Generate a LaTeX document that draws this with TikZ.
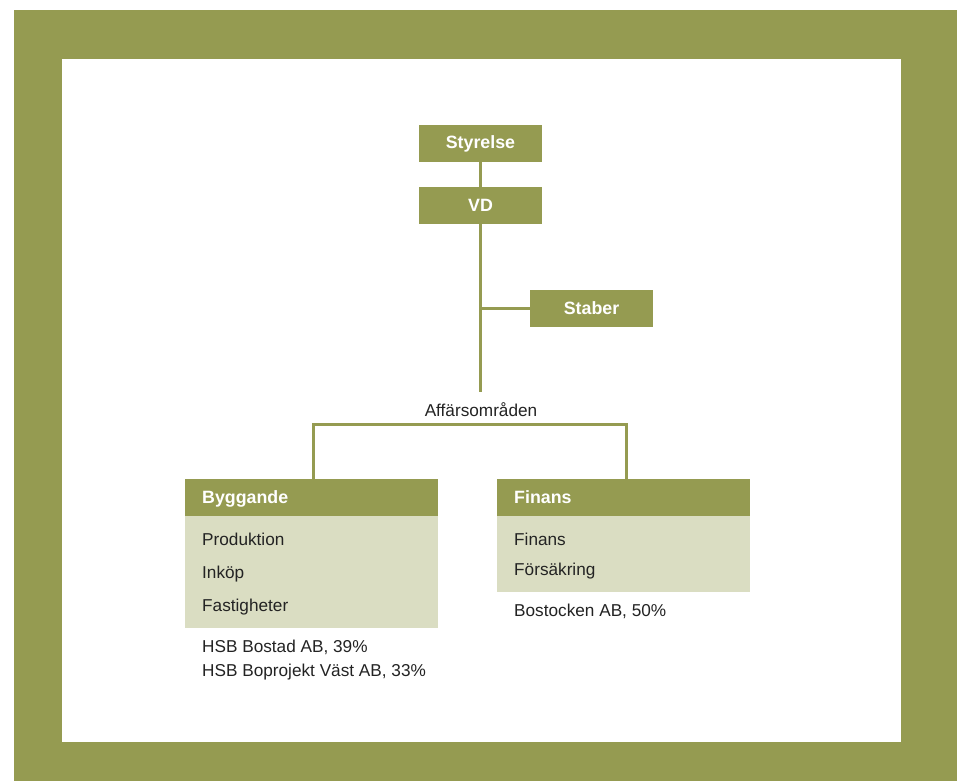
\documentclass[tikz,border=0pt]{standalone}
\usepackage{fontspec}
\setmainfont{Liberation Sans}
\definecolor{olive}{RGB}{149,155,81}
\definecolor{pale}{RGB}{218,221,194}
\definecolor{ink}{RGB}{35,35,35}
\begin{document}
\begin{tikzpicture}[x=1pt,y=-1pt,
  headbox/.style={fill=olive,draw=none,minimum width=123pt,minimum height=37pt,inner sep=0pt,
    text=white,font=\fontsize{17.8}{20}\selectfont\bfseries},
  bandhead/.style={fill=olive,draw=none,inner sep=0pt},
  bandbody/.style={fill=pale,draw=none,inner sep=0pt},
  headtxt/.style={anchor=base west,inner sep=0pt,text=white,font=\fontsize{17.8}{20}\selectfont\bfseries},
  bodytxt/.style={anchor=base west,inner sep=0pt,text=ink,font=\fontsize{17.2}{20}\selectfont},
  link/.style={draw=olive,line width=3pt}]
\useasboundingbox (0,0) rectangle (963,781);
\fill[white] (0,0) rectangle (963,781);
\fill[olive] (14,10) rectangle (957,781);
\fill[white] (62,59) rectangle (901,742);
% top boxes
\node[headbox] (sty) at (480.5,143.5) {Styrelse};
\node[headbox] (vd) at (480.5,205.5) {VD};
\node[headbox] (sta) at (591.5,308.5) {Staber};
\coordinate (vend) at (480.5,391.5);
\draw[link] (sty.south) -- (vd.north);
\draw[link] (vd.south) -- (vend);
\draw[link] (vd.south |- sta.west) -- (sta.west);
\node[anchor=base,inner sep=0pt,text=ink,font=\fontsize{17.2}{20}\selectfont] (aff) at (481,416) {Affärsområden};
% business area boxes
\path[bandhead] (185,479) rectangle (438,515.5);
\path[bandbody] (185,515.5) rectangle (438,628);
\path[bandhead] (497,479) rectangle (750,515.5);
\path[bandbody] (497,515.5) rectangle (750,592);
\node[headtxt] (byg) at (202,503) {Byggande};
\node[headtxt] (fin) at (514,503) {Finans};
\coordinate (bygtop) at (313,479);
\coordinate (fintop) at (626,479);
\coordinate (barL) at (313,424.5);
\coordinate (barR) at (626,424.5);
\draw[link,line join=miter] (bygtop) -- (barL) -- (barR) -- (fintop);
\node[bodytxt] (p1) at (202,545.5) {Produktion};
\node[bodytxt] (p2) at (202,578) {Inköp};
\node[bodytxt] (p3) at (202,611) {Fastigheter};
\node[bodytxt] (s1) at (202,652.5) {HSB Bostad AB, 39\%};
\node[bodytxt] (s2) at (202,676.5) {HSB Boprojekt Väst AB, 33\%};
\node[bodytxt] (f1) at (514,545.5) {Finans};
\node[bodytxt] (f2) at (514,575.5) {Försäkring};
\node[bodytxt] (f3) at (514,616.5) {Bostocken AB, 50\%};
\end{tikzpicture}
\end{document}
